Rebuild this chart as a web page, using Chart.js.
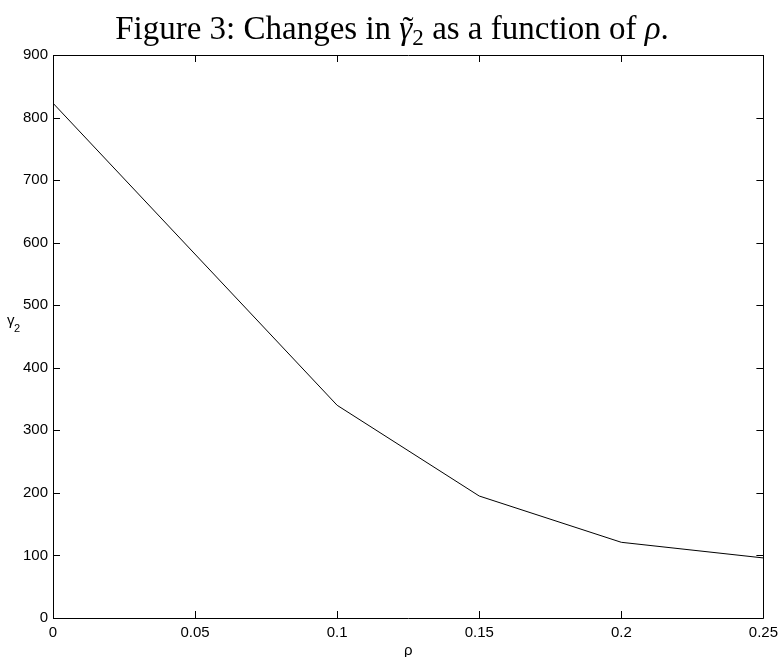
<!DOCTYPE html>
<html>
<head>
<meta charset="utf-8">
<script src="https://cdn.jsdelivr.net/npm/chart.js@4.4.0/dist/chart.umd.min.js"></script>
<style>
  html, body { margin: 0; padding: 0; background: #fff; }
  #wrap { position: relative; width: 784px; height: 657px; }
  #title {
    position: absolute; left: 0; width: 784px; top: 12px;
    text-align: center; font-family: "Liberation Serif", "Times New Roman", serif;
    font-size: 33px; color: #000; white-space: nowrap; line-height: 1;
  }
  .acc { position: relative; display: inline-block; font-style: italic; }
  .acc .tl { position: absolute; left: 0.1em; top: 0.02em; font-style: normal; }
  sub { font-size: 0.7em; vertical-align: -0.25em; line-height: 0; }
  canvas { position: absolute; left: 0; top: 0; }
</style>
</head>
<body>
<div id="wrap">
  <canvas id="c" width="784" height="657"></canvas>
  <div id="title">Figure 3: Changes in <span class="acc">γ<span class="tl">˜</span></span><sub>2</sub> as a function of <i>ρ</i>.</div>
</div>
<script>
// ---- data ----
const rhoValues = [0, 0.1, 0.15, 0.2, 0.25];
const gamma2Values = [823, 340, 195, 121, 96];
const xTicks = [0, 0.05, 0.1, 0.15, 0.2, 0.25];
const xTickLabels = ["0", "0.05", "0.1", "0.15", "0.2", "0.25"];
const yTicks = [0, 100, 200, 300, 400, 500, 600, 700, 800, 900];
const xAxisTitle = "ρ";
const yAxisTitleMain = "γ";
const yAxisTitleSub = "2";

const TICK_FONT = { family: "'Liberation Sans', Arial, sans-serif", size: 15 };

const framePlugin = {
  id: 'frame',
  afterDraw(chart) {
    const { ctx, chartArea: a, scales: { x, y } } = chart;
    const L = 7;
    ctx.save();
    ctx.strokeStyle = '#000';
    ctx.lineWidth = 1;
    ctx.beginPath();
    ctx.rect(Math.round(a.left) + 0.5, Math.round(a.top) + 0.5,
             Math.round(a.right - a.left), Math.round(a.bottom - a.top));
    ctx.stroke();
    ctx.beginPath();
    x.ticks.forEach(t => {
      const px = Math.round(x.getPixelForValue(t.value)) + 0.5;
      ctx.moveTo(px, a.bottom); ctx.lineTo(px, a.bottom - L);
      ctx.moveTo(px, a.top); ctx.lineTo(px, a.top + L);
    });
    y.ticks.forEach(t => {
      const py = Math.round(y.getPixelForValue(t.value)) + 0.5;
      ctx.moveTo(a.left, py); ctx.lineTo(a.left + L, py);
      ctx.moveTo(a.right, py); ctx.lineTo(a.right - L, py);
    });
    ctx.stroke();
    // axis titles
    ctx.fillStyle = '#000';
    ctx.font = "15px 'Liberation Sans', Arial, sans-serif";
    ctx.textAlign = 'center';
    ctx.textBaseline = 'alphabetic';
    ctx.fillText(xAxisTitle, (a.left + a.right) / 2, 655);
    ctx.textAlign = 'left';
    const ym = (a.top + a.bottom) / 2;
    ctx.fillText(yAxisTitleMain, 7, ym - 12);
    ctx.font = "11px 'Liberation Sans', Arial, sans-serif";
    ctx.fillText(yAxisTitleSub, 14, ym - 5);
    ctx.restore();
  }
};

new Chart(document.getElementById('c'), {
  type: 'line',
  data: {
    datasets: [{
      data: rhoValues.map((r, i) => ({ x: r, y: gamma2Values[i] })),
      borderColor: '#000',
      borderWidth: 1,
      pointRadius: 0,
      tension: 0,
      fill: false
    }]
  },
  options: {
    responsive: false,
    animation: false,
    devicePixelRatio: 1,
    layout: { padding: { top: 55, right: 16, left: 0, bottom: 0 } },
    plugins: { legend: { display: false }, tooltip: { enabled: false }, title: { display: false } },
    scales: {
      x: {
        type: 'linear', min: 0, max: 0.25,
        grid: { display: false, drawTicks: false },
        border: { display: false },
        afterBuildTicks: s => { s.ticks = xTicks.map(v => ({ value: v })); },
        afterFit: s => { s.height = 39; },
        ticks: {
          font: TICK_FONT, color: '#000', padding: 6, maxRotation: 0, autoSkip: false,
          callback: (v) => { const i = xTicks.findIndex(t => Math.abs(t - v) < 1e-9); return i >= 0 ? xTickLabels[i] : ''; }
        }
      },
      y: {
        type: 'linear', min: 0, max: 900,
        grid: { display: false, drawTicks: false },
        border: { display: false },
        afterBuildTicks: s => { s.ticks = yTicks.map(v => ({ value: v })); },
        afterFit: s => { s.width = 53; },
        ticks: { font: TICK_FONT, color: '#000', padding: 5, autoSkip: false, callback: v => String(v) }
      }
    }
  },
  plugins: [framePlugin]
});
</script>
</body>
</html>
